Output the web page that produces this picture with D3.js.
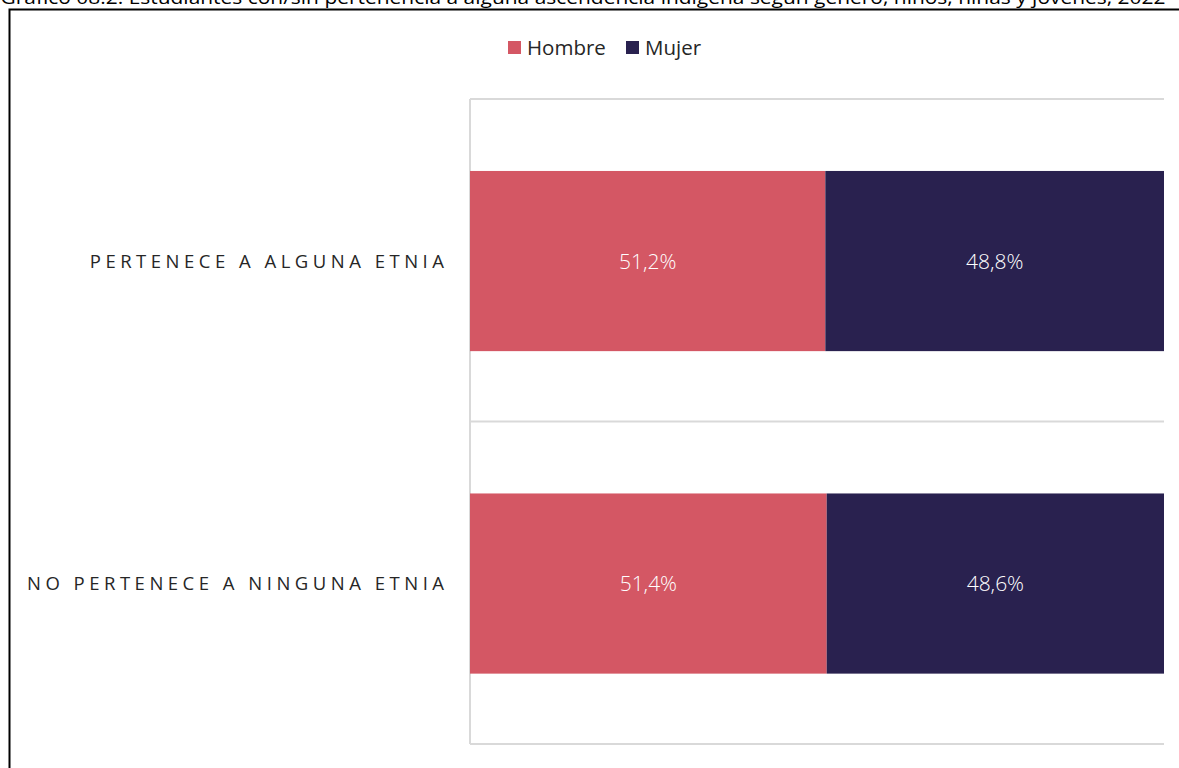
<!DOCTYPE html>
<html>
<head>
<meta charset="utf-8">
<script src="https://cdn.jsdelivr.net/npm/d3@7"></script>
<style>
  html, body { margin: 0; padding: 0; background: #fff; overflow: hidden; }
  svg { display: block; font-family: "Open Sans", sans-serif; }
</style>
</head>
<body>
<div id="chart"></div>
<script>
// categories and shares
let categories = ['PERTENECE A ALGUNA ETNIA', 'NO PERTENECE A NINGUNA ETNIA'];
let seriesNames = ['Hombre', 'Mujer'];
let hombre = [0.512, 0.514];
let mujer = [0.488, 0.486];
let seriesColors = ['#d45764', '#29214f'];
let titleText = 'Gráfico 08.2. Estudiantes con/sin pertenencia a alguna ascendencia indígena según género, niños, niñas y jóvenes, 2022';

let buildChart = function() {
  let W = 1179, H = 768;
  let margin = {top: 99, right: 15, bottom: 24, left: 470};
  let width = W - margin.left - margin.right;
  let height = H - margin.top - margin.bottom;

  let svg = d3.select('#chart')
    .append('svg')
    .attr('width', W)
    .attr('height', H);

  // title, mostly cut off at the top of the picture (as in the source)
  svg.append('text')
    .attr('x', 583)
    .attr('y', 3.5)
    .attr('text-anchor', 'middle')
    .attr('font-size', 19)
    .attr('fill', '#000')
    .attr('textLength', 1165)
    .attr('lengthAdjust', 'spacingAndGlyphs')
    .text(titleText);

  // outer frame
  svg.append('rect')
    .attr('x', 9.5).attr('y', 9.5)
    .attr('width', W + 20).attr('height', H + 20)
    .attr('fill', 'none')
    .attr('stroke', '#000')
    .attr('stroke-width', 2);

  let g = svg.append('g')
    .attr('transform', `translate(${margin.left}, ${margin.top})`);

  let x = d3.scaleLinear().domain([0, 1]).range([0, width]);
  let y = d3.scaleBand().domain(categories).range([0, height]).padding(0);

  // category boundaries
  let bounds = [0].concat(categories.map(c => y(c) + y.bandwidth()));
  g.selectAll('line.grid')
    .data(bounds)
    .enter().append('line')
    .classed('grid', true)
    .attr('x1', 0).attr('x2', width)
    .attr('y1', d => d).attr('y2', d => d)
    .attr('stroke', '#d9d9d9')
    .attr('stroke-width', 2);

  g.append('line')
    .attr('x1', 0).attr('x2', 0)
    .attr('y1', 0).attr('y2', height)
    .attr('stroke', '#d9d9d9')
    .attr('stroke-width', 2);

  // stack the two series
  let rows = categories.map((c, i) => ({key: c, Hombre: hombre[i], Mujer: mujer[i]}));
  let stacked = d3.stack().keys(seriesNames)(rows);

  let gap = 0.79; // excel gap width
  let barH = y.bandwidth() / (1 + gap);
  let off = (y.bandwidth() - barH) / 2 + 0.8;

  let layers = g.selectAll('g.layer')
    .data(stacked)
    .enter().append('g')
    .classed('layer', true)
    .attr('fill', (d, i) => seriesColors[i]);

  layers.selectAll('rect')
    .data(d => d)
    .enter().append('rect')
    .attr('x', d => x(d[0]))
    .attr('width', d => x(d[1]) - x(d[0]))
    .attr('y', d => y(d.data.key) + off)
    .attr('height', barH);

  layers.selectAll('text')
    .data(d => d)
    .enter().append('text')
    .attr('x', d => (x(d[0]) + x(d[1])) / 2)
    .attr('y', d => y(d.data.key) + off + barH / 2)
    .attr('dy', '0.36em')
    .attr('text-anchor', 'middle')
    .attr('font-size', 21)
    .attr('font-weight', 300)
    .attr('fill', '#fff')
    .text(d => ((d[1] - d[0]) * 100).toFixed(1).replace('.', ',') + '%');

  // category labels
  g.selectAll('text.cat')
    .data(categories)
    .enter().append('text')
    .classed('cat', true)
    .attr('x', -21.5)
    .attr('y', d => y(d) + off + barH / 2)
    .attr('dy', '0.35em')
    .attr('text-anchor', 'end')
    .attr('font-size', 18.5)
    .attr('letter-spacing', 4.5)
    .attr('fill', '#262626')
    .text(d => d);

  // legend
  let legend = svg.append('g').attr('transform', 'translate(508, 41)');
  let legX = [0, 118];
  seriesNames.forEach(function(name, i) {
    let item = legend.append('g').attr('transform', `translate(${legX[i]}, 0)`);
    item.append('rect')
      .attr('width', 13).attr('height', 13)
      .attr('fill', seriesColors[i]);
    item.append('text')
      .attr('x', 19).attr('y', 6.5)
      .attr('dy', '0.35em')
      .attr('font-size', 20.5)
      .attr('fill', '#262626')
      .text(name);
  });
};

buildChart();
</script>
</body>
</html>
